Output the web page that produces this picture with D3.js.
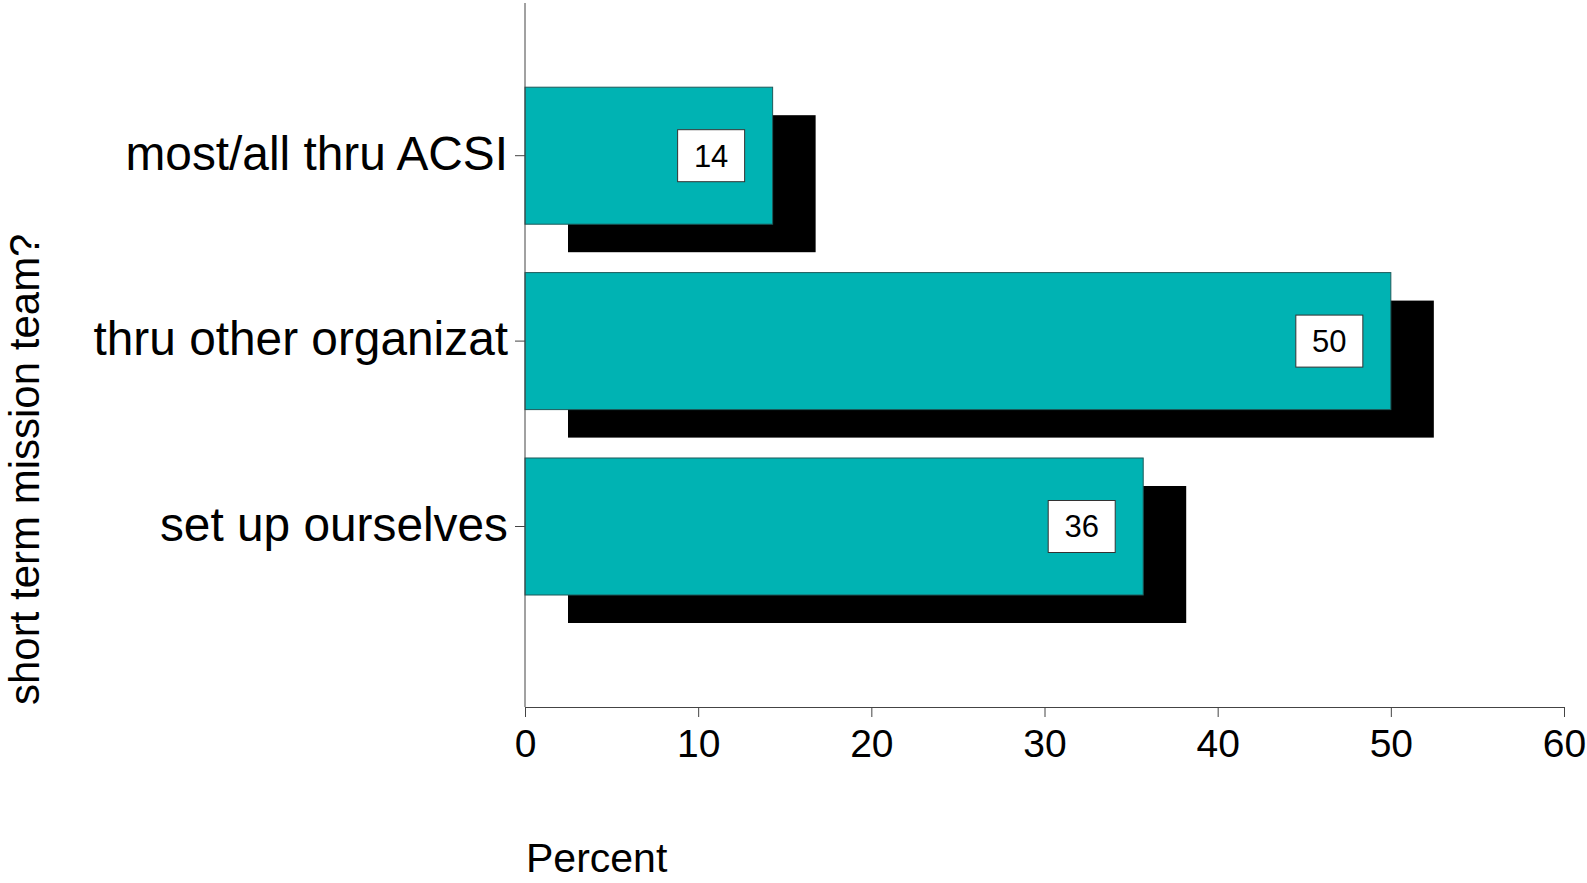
<!DOCTYPE html>
<html>
<head>
<meta charset="utf-8">
<script src="https://cdn.jsdelivr.net/npm/d3@7"></script>
<style>
  html, body { margin: 0; padding: 0; background: #fff; }
  svg { display: block; font-family: Arial, "Liberation Sans", Helvetica, sans-serif; }
</style>
</head>
<body>
<svg id="chart" width="1587" height="883"></svg>
<script>
const categories = ["most/all thru ACSI", "thru other organizat", "set up ourselves"];
const values = [14.3, 50.0, 35.7];
const valueLabels = ["14", "50", "36"];
const xTicks = [0, 10, 20, 30, 40, 50, 60];
const xTitle = "Percent";
const yTitle = "short term mission team?";

const svg = d3.select("#chart");
const plotLeft = 525, plotRight = 1564, plotTop = 3, plotBottom = 707;

const x = d3.scaleLinear().domain([0, 60]).range([plotLeft, plotRight]);
const y = d3.scaleBand().domain(categories).range([63, 619.2])
  .paddingInner(0.261).paddingOuter(0.1305);

const shadowDx = 43, shadowDy = 28;
const teal = "#00b3b3";

const data = categories.map((c, i) => ({ c, v: values[i], lab: valueLabels[i] }));

// shadows
svg.append("g").selectAll("rect").data(data).join("rect")
  .attr("x", x(0) + shadowDx)
  .attr("y", d => y(d.c) + shadowDy)
  .attr("width", d => x(d.v) - x(0))
  .attr("height", y.bandwidth())
  .attr("fill", "#000");

// bars
svg.append("g").selectAll("rect").data(data).join("rect")
  .attr("x", x(0))
  .attr("y", d => y(d.c))
  .attr("width", d => x(d.v) - x(0))
  .attr("height", y.bandwidth())
  .attr("fill", teal)
  .attr("stroke", "#1d5a5a")
  .attr("stroke-width", 1);

// value label boxes
const boxW = 67, boxH = 52, boxInset = 28;
const lg = svg.append("g").selectAll("g").data(data).join("g")
  .attr("transform", d => `translate(${x(d.v) - boxInset - boxW},${y(d.c) + y.bandwidth() / 2 - boxH / 2})`);
lg.append("rect")
  .attr("width", boxW).attr("height", boxH)
  .attr("fill", "#fff").attr("stroke", "#333").attr("stroke-width", 1);
lg.append("text")
  .attr("x", boxW / 2).attr("y", boxH / 2).attr("dy", "0.35em")
  .attr("text-anchor", "middle")
  .attr("font-size", 31).attr("fill", "#000")
  .text(d => d.lab);

// x axis
const xAxis = d3.axisBottom(x).tickValues(xTicks).tickSize(10).tickPadding(12).tickSizeOuter(0);
const gx = svg.append("g").attr("transform", `translate(0,${plotBottom})`).call(xAxis);
gx.select(".domain").attr("stroke", "#444");
gx.selectAll(".tick line").attr("stroke", "#444");
gx.selectAll(".tick text").attr("font-size", 39).attr("fill", "#000")
  .attr("font-family", "Arial, 'Liberation Sans', sans-serif");

// y axis
const yAxis = d3.axisLeft(y).tickSize(10).tickPadding(10).tickSizeOuter(0);
const gy = svg.append("g").attr("transform", `translate(${plotLeft},0)`).call(yAxis);
gy.select(".domain").attr("d", `M0,${plotTop}V${plotBottom}`).attr("stroke", "#444");
gy.selectAll(".tick line").attr("stroke", "#444");
gy.selectAll(".tick text").attr("font-size", 47.8).attr("fill", "#000")
  .attr("x", -17).attr("dy", "0.3em")
  .attr("font-family", "Arial, 'Liberation Sans', sans-serif");

// titles
svg.append("text")
  .attr("x", 526).attr("y", 872)
  .attr("font-size", 41).attr("fill", "#000")
  .text(xTitle);

svg.append("text")
  .attr("transform", "translate(39,705) rotate(-90)")
  .attr("font-size", 42).attr("fill", "#000")
  .text(yTitle);
</script>
</body>
</html>
